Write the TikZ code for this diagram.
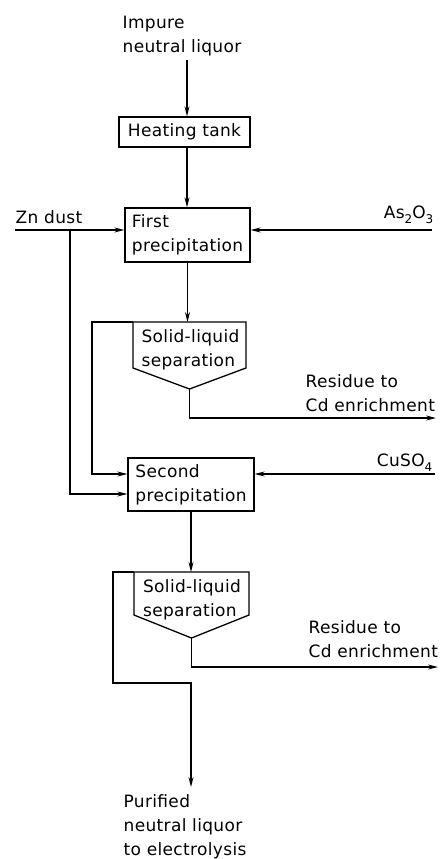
\documentclass[tikz,border=0pt]{standalone}
\usepackage{fontspec}
\setmainfont[LetterSpace=2]{DejaVu Sans}
\usetikzlibrary{arrows.meta,calc}
\begin{document}
\begin{tikzpicture}[x=1bp,y=-1bp, line width=1.3bp,
  every node/.style={font=\fontsize{17bp}{24bp}\selectfont, inner sep=0pt},
  box/.style={draw, align=left},
  lbl/.style={align=left, anchor=north west},
  septext/.style={align=left},
  arr/.style={-{Stealth[length=10bp,width=5bp]}}]
\useasboundingbox (0,0) rectangle (440,859);
% labels
\node[lbl] (impure) at (122,15.6) {Impure\\neutral liquor};
\node[anchor=base west] (zn) at (15,223) {Zn dust};
\node[anchor=base east] (as) at (434,218) {As\raisebox{-5bp}{\fontsize{12bp}{12bp}\selectfont 2}O\raisebox{-5bp}{\fontsize{12bp}{12bp}\selectfont 3}};
\node[lbl] (res1) at (305,374) {Residue to\\Cd enrichment};
\node[anchor=base east] (cu) at (433,466) {CuSO\raisebox{-5bp}{\fontsize{12bp}{12bp}\selectfont 4}};
\node[lbl] (res2) at (308,620) {Residue to\\Cd enrichment};
\node[lbl] (pur) at (123,794) {Purified\\neutral liquor\\to electrolysis};
% boxes
\node[box, minimum width=131bp, minimum height=30bp] (heat) at (184.5,132) {Heating tank};
\node[box, minimum width=125bp, minimum height=54bp] (fp) at (187.5,235) {First\\precipitation};
\node[box, minimum width=126bp, minimum height=53bp] (sp) at (191,484.5) {Second\\precipitation};
% separators
\node[septext] (s1) at (190.5,349.5) {Solid-liquid\\separation};
\coordinate (s1tl) at (133,322);
\coordinate (s1tr) at (246,322);
\coordinate (s1br) at (246,368);
\coordinate (s1bl) at (133,368);
\coordinate (s1p) at (189.5,389);
\draw (s1tl) -- (s1tr) -- (s1br) -- (s1p) -- (s1bl) -- cycle;
\node[septext] (s2) at (192,599.5) {Solid-liquid\\separation};
\coordinate (s2tl) at (134,572);
\coordinate (s2tr) at (249,572);
\coordinate (s2br) at (249,615);
\coordinate (s2bl) at (134,615);
\coordinate (s2p) at (191.5,638);
\draw (s2tl) -- (s2tr) -- (s2br) -- (s2p) -- (s2bl) -- cycle;
% connector points
\coordinate (in1) at (187,60);
\coordinate (zn0) at (15,230);
\coordinate (znb) at (70,230);
\coordinate (as0) at (432,230);
\coordinate (l1) at (92,322);
\coordinate (r1) at (436,418);
\coordinate (cu0) at (435,474);
\coordinate (l2) at (113,572);
\coordinate (m2) at (191,683);
\coordinate (out) at (191,787);
\coordinate (r2) at (438,667);
% connectors
\draw[arr] (in1) -- (in1 |- heat.north);
\draw[arr] (in1 |- heat.south) -- (in1 |- fp.north);
\draw[arr] (zn0) -- (zn0 -| fp.west);
\draw[arr] (as0) -- (as0 -| fp.east);
\draw[arr] (fp.south) -- (fp.south |- s1tl);
\draw[arr] (s1tl) -- (l1) |- ($(sp.west)+(0,-10.5)$);
\draw[arr] (znb) |- ($(sp.west)+(0,9.5)$);
\draw[arr] (s1p) |- (r1);
\draw[arr] (cu0) -- (cu0 -| sp.east);
\draw[arr] (sp.south) -- (sp.south |- s2tl);
\draw[arr] (s2tl) -- (l2) |- (m2) -- (out);
\draw[arr] (s2p) |- (r2);
\end{tikzpicture}
\end{document}
